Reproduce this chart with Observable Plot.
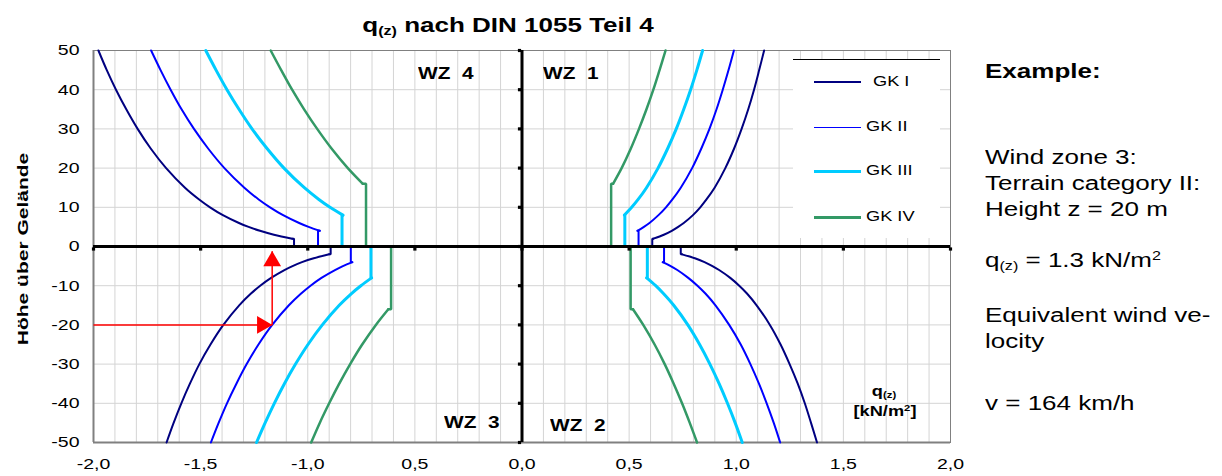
<!DOCTYPE html>
<html><head><meta charset="utf-8">
<script src="https://cdn.jsdelivr.net/npm/d3@7"></script>
<script src="https://cdn.jsdelivr.net/npm/@observablehq/plot@0.6"></script>
<style>
html,body{margin:0;padding:0;background:#fff;}
#wrap{position:relative;width:1222px;height:476px;overflow:hidden;font-family:"Liberation Sans",Arial,sans-serif;color:#000;}
#chart{position:absolute;left:0;top:0;}
.t{position:absolute;white-space:nowrap;line-height:1;}
.sx{transform-origin:0 0;transform:scaleX(1.3);}
.cx{transform-origin:50% 0;transform:translateX(-50%) scaleX(1.3);}
.b{font-weight:bold;}
sub{font-size:62%;vertical-align:-0.25em;line-height:0;}
sup{font-size:62%;vertical-align:0.6em;line-height:0;}
#legend{position:absolute;left:793px;top:59px;width:147px;height:178px;background:#fff;border-top:1px solid #000;}
.sw{position:absolute;left:21px;width:47px;}
.lt{position:absolute;left:74px;font-size:14px;line-height:1;transform-origin:0 0;transform:scaleX(1.3);white-space:nowrap;}
</style></head><body><div id="wrap"><div id="chart"></div></div>
<script>
// ---- categories ----
const zoneNames = ["WZ 1", "WZ 2", "WZ 3", "WZ 4"];
const zoneSignX = [1, 1, -1, -1];   // WZ1 top-right, WZ2 bottom-right, WZ3 bottom-left, WZ4 top-left
const zoneSignY = [1, -1, -1, 1];
const gkNames = ["GK I", "GK II", "GK III", "GK IV"];
const gkColors = ["#000080", "#0000ff", "#00ccff", "#339966"];
const gkWidths = [2, 2, 3, 2.5];

// ---- heights above ground [m] for the profile part of each terrain category ----
const zGK1 = [2, 3, 4, 5, 6, 8, 10, 12, 15, 20, 25, 30, 35, 40, 45, 50];
const zGK2 = [4, 5, 6, 8, 10, 12, 15, 20, 25, 30, 35, 40, 45, 50];
const zGK3 = [8, 10, 12, 15, 20, 25, 30, 35, 40, 45, 50];
const zGK4 = [16, 20, 25, 30, 35, 40, 45, 50];

// ---- constant q below the minimum height, per wind zone WZ1..WZ4 [kN/m²] ----
const qGroundGK1 = [0.608, 0.741, 0.893, 1.064];
const qGroundGK2 = [0.544, 0.663, 0.799, 0.952];
const qGroundGK3 = [0.480, 0.585, 0.705, 0.840];
const qGroundGK4 = [0.416, 0.507, 0.611, 0.728];

// ---- q(z) [kN/m²] ----
const qWZ1_GK1 = [0.613, 0.662, 0.699, 0.729, 0.755, 0.798, 0.832, 0.861, 0.899, 0.949, 0.990, 1.025, 1.056, 1.083, 1.107, 1.130];
const qWZ2_GK1 = [0.747, 0.807, 0.852, 0.889, 0.920, 0.972, 1.014, 1.050, 1.095, 1.157, 1.207, 1.249, 1.287, 1.320, 1.349, 1.377];
const qWZ3_GK1 = [0.900, 0.972, 1.027, 1.071, 1.109, 1.171, 1.222, 1.265, 1.320, 1.394, 1.454, 1.506, 1.550, 1.590, 1.626, 1.659];
const qWZ4_GK1 = [1.072, 1.158, 1.223, 1.276, 1.321, 1.396, 1.456, 1.507, 1.573, 1.661, 1.733, 1.794, 1.847, 1.895, 1.938, 1.977];

const qWZ1_GK2 = [0.539, 0.569, 0.595, 0.637, 0.672, 0.702, 0.741, 0.794, 0.837, 0.875, 0.908, 0.937, 0.964, 0.989];
const qWZ2_GK2 = [0.657, 0.694, 0.725, 0.776, 0.819, 0.856, 0.903, 0.967, 1.021, 1.066, 1.106, 1.142, 1.175, 1.205];
const qWZ3_GK2 = [0.792, 0.836, 0.873, 0.936, 0.987, 1.031, 1.088, 1.166, 1.230, 1.285, 1.333, 1.377, 1.416, 1.452];
const qWZ4_GK2 = [0.944, 0.996, 1.040, 1.115, 1.176, 1.229, 1.296, 1.389, 1.465, 1.531, 1.589, 1.640, 1.687, 1.731];

const qWZ1_GK3 = [0.478, 0.512, 0.542, 0.581, 0.635, 0.680, 0.720, 0.755, 0.787, 0.816, 0.843];
const qWZ2_GK3 = [0.582, 0.624, 0.660, 0.708, 0.774, 0.829, 0.877, 0.920, 0.959, 0.995, 1.028];
const qWZ3_GK3 = [0.702, 0.752, 0.796, 0.853, 0.932, 0.999, 1.057, 1.109, 1.156, 1.199, 1.239];
const qWZ4_GK3 = [0.836, 0.896, 0.948, 1.016, 1.111, 1.190, 1.260, 1.321, 1.377, 1.428, 1.476];

const qWZ1_GK4 = [0.425, 0.465, 0.508, 0.546, 0.581, 0.613, 0.642, 0.670];
const qWZ2_GK4 = [0.518, 0.566, 0.619, 0.666, 0.708, 0.747, 0.783, 0.817];
const qWZ3_GK4 = [0.624, 0.682, 0.746, 0.802, 0.853, 0.900, 0.944, 0.984];
const qWZ4_GK4 = [0.743, 0.813, 0.889, 0.956, 1.017, 1.073, 1.124, 1.173];

// ---- example (WZ 3, GK II, z = 20 m) ----
const exampleQ = -1.166;
const exampleZ = -20;
const exampleTipZ = -1.2;

// ---- axis ticks ----
const xTickValues = [-2, -1.5, -1, -0.5, 0, 0.5, 1, 1.5, 2];
const xTickLabels = ["-2,0", "-1,5", "-1,0", "0,5", "0,0", "0,5", "1,0", "1,5", "2,0"];
const yTickValues = [50, 40, 30, 20, 10, 0, -10, -20, -30, -40, -50];
const yTickLabels = ["50", "40", "30", "20", "10", "0", "-10", "-20", "-30", "-40", "-50"];
const xGridValues = [-2,-1.9,-1.8,-1.7,-1.6,-1.5,-1.4,-1.3,-1.2,-1.1,-1,-0.9,-0.8,-0.7,-0.6,-0.5,-0.4,-0.3,-0.2,-0.1,0,
  0.1,0.2,0.3,0.4,0.5,0.6,0.7,0.8,0.9,1,1.1,1.2,1.3,1.4,1.5,1.6,1.7,1.8,1.9,2];

// ---- assemble tables ----
const heights = [zGK1, zGK2, zGK3, zGK4];
const grounds = [qGroundGK1, qGroundGK2, qGroundGK3, qGroundGK4];
const curves = [
  [qWZ1_GK1, qWZ2_GK1, qWZ3_GK1, qWZ4_GK1],
  [qWZ1_GK2, qWZ2_GK2, qWZ3_GK2, qWZ4_GK2],
  [qWZ1_GK3, qWZ2_GK3, qWZ3_GK3, qWZ4_GK3],
  [qWZ1_GK4, qWZ2_GK4, qWZ3_GK4, qWZ4_GK4]
];

const lineMarks = [];
gkNames.forEach((gk, g) => {
  const stepRows = [], curveRows = [];
  zoneNames.forEach((wz, w) => {
    const sx = zoneSignX[w], sy = zoneSignY[w];
    const zs = heights[g], qs = curves[g][w], c = grounds[g][w];
    const id = wz + " " + gk;
    stepRows.push({id, q: sx * c, z: 0}, {id, q: sx * c, z: sy * zs[0]}, {id, q: sx * qs[0], z: sy * zs[0]});
    zs.forEach((z, i) => curveRows.push({id, q: sx * qs[i], z: sy * z}));
  });
  lineMarks.push(Plot.line(stepRows, {x: "q", y: "z", z: "id", stroke: gkColors[g], strokeWidth: gkWidths[g], strokeLinejoin: "miter"}));
  lineMarks.push(Plot.line(curveRows, {x: "q", y: "z", z: "id", stroke: gkColors[g], strokeWidth: gkWidths[g], curve: "catmull-rom"}));
});

const chart = Plot.plot({
  width: 1222,
  height: 476,
  marginLeft: 93,
  marginRight: 272,
  marginTop: 50,
  marginBottom: 34,
  style: {fontFamily: "'Liberation Sans', Arial, sans-serif", fontSize: "15px", color: "#000", background: "transparent"},
  x: {domain: [-2, 2]},
  y: {domain: [-50, 50]},
  marks: [
    Plot.gridX(xGridValues, {stroke: "#d4d4d4", strokeOpacity: 1, strokeWidth: 1}),
    Plot.gridY(yTickValues, {stroke: "#d4d4d4", strokeOpacity: 1, strokeWidth: 1}),
    Plot.frame({stroke: "#808080", strokeWidth: 1}),
    Plot.ruleY([-50], {stroke: "#808080", strokeWidth: 2}),
    Plot.ruleX([-2], {stroke: "#808080", strokeWidth: 2}),
    Plot.axisX({ticks: xTickValues, tickFormat: (d) => xTickLabels[xTickValues.indexOf(d)], tickSize: 0, tickPadding: 16, label: null, fontSize: 15}),
    Plot.axisY({ticks: yTickValues, tickFormat: (d) => yTickLabels[yTickValues.indexOf(d)], tickSize: 0, tickPadding: 14, label: null, fontSize: 15}),
    ...lineMarks,
    Plot.ruleY([0], {stroke: "#000", strokeWidth: 3}),
    Plot.ruleX([0], {stroke: "#000", strokeWidth: 3}),
    Plot.dot(xTickValues, {x: d => d, y: 0, symbol: "square", r: 1.8, fill: "#000", stroke: null, dy: 2.5}),
    Plot.dot(yTickValues, {x: 0, y: d => d, symbol: "square", r: 1.8, fill: "#000", stroke: null, dx: -2.5}),
    // example arrows
    Plot.link([{x1: -2.0, y1: exampleZ, x2: exampleQ, y2: exampleZ}], {x1: "x1", y1: "y1", x2: "x2", y2: "y2", stroke: "#ff0000", strokeWidth: 1.5, clip: false}),
    Plot.link([{x1: exampleQ, y1: exampleZ, x2: exampleQ, y2: exampleTipZ}], {x1: "x1", y1: "y1", x2: "x2", y2: "y2", stroke: "#ff0000", strokeWidth: 1.5}),
    Plot.dot([{q: exampleQ, z: exampleTipZ}], {x: "q", y: "z", symbol: "triangle", r: 6.6, fill: "#ff0000", stroke: null, dy: 10}),
    Plot.dot([{q: exampleQ, z: exampleZ}], {x: "q", y: "z", symbol: "triangle", r: 6.6, fill: "#ff0000", stroke: null, rotate: 90, dx: -10})
  ]
});
document.getElementById("chart").appendChild(chart);

// horizontal stretch of axis labels as in the reference
chart.querySelectorAll('g[aria-label$="tick label"] text').forEach(t => {
  const tr = t.getAttribute("transform");
  if (tr) t.setAttribute("transform", tr + " scale(1.3,1)");
  else {
    const x = +t.getAttribute("x") || 0, y = +t.getAttribute("y") || 0;
    t.removeAttribute("x"); t.removeAttribute("y");
    t.setAttribute("transform", `translate(${x},${y}) scale(1.3,1)`);
  }
});

// ---- annotations ----
const wrap = document.getElementById("wrap");
function add(html, cls, left, top, size, extra) {
  const d = document.createElement("div");
  d.className = "t " + cls;
  d.style.left = left + "px"; d.style.top = top + "px"; d.style.fontSize = size + "px";
  if (extra) Object.assign(d.style, extra);
  d.innerHTML = html;
  wrap.appendChild(d);
  return d;
}
add("q<sub>(z)</sub> nach DIN 1055 Teil 4", "cx b", 508, 15, 20);
add("Höhe über Gelände", "b", 22, 249, 15, {transform: "translate(-50%,-50%) rotate(-90deg) scaleX(1.4)", transformOrigin: "50% 50%"});
add("WZ&nbsp; 4", "sx b", 418, 66, 16);
add("WZ&nbsp; 1", "sx b", 543, 66, 16);
add("WZ&nbsp; 3", "sx b", 444, 415, 16);
add("WZ&nbsp; 2", "sx b", 550, 418, 16);
add("q<sub>(z)</sub>", "cx b", 884, 384, 14);
add("[kN/m<sup>2</sup>]", "cx b", 885, 404, 14);

// legend
const leg = document.createElement("div");
leg.id = "legend";
const rowsY = [22, 67, 111, 157];
gkNames.forEach((gk, g) => {
  const sw = document.createElement("div");
  sw.className = "sw";
  const h = g === 1 ? 1 : (g === 0 ? 2 : 3);
  sw.style.top = (rowsY[g] - h / 2) + "px"; sw.style.height = h + "px"; sw.style.background = gkColors[g];
  leg.appendChild(sw);
  const lt = document.createElement("div");
  lt.className = "lt";
  lt.style.top = (rowsY[g] - 8) + "px";
  lt.style.left = (g === 0 ? 80 : 73) + "px";
  lt.textContent = gk;
  leg.appendChild(lt);
});
wrap.appendChild(leg);

// example text
add("Example:", "sx b", 985, 61, 20);
add("Wind zone 3:", "sx", 985, 147, 20);
add("Terrain category II:", "sx", 985, 173, 20);
add("Height z = 20 m", "sx", 985, 199, 20);
add("q<sub>(z)</sub> = 1.3 kN/m<sup>2</sup>", "sx", 985, 250, 20);
add("Equivalent wind ve-", "sx", 985, 305, 20);
add("locity", "sx", 985, 331, 20);
add("v = 164 km/h", "sx", 985, 393, 20);
</script></body></html>
